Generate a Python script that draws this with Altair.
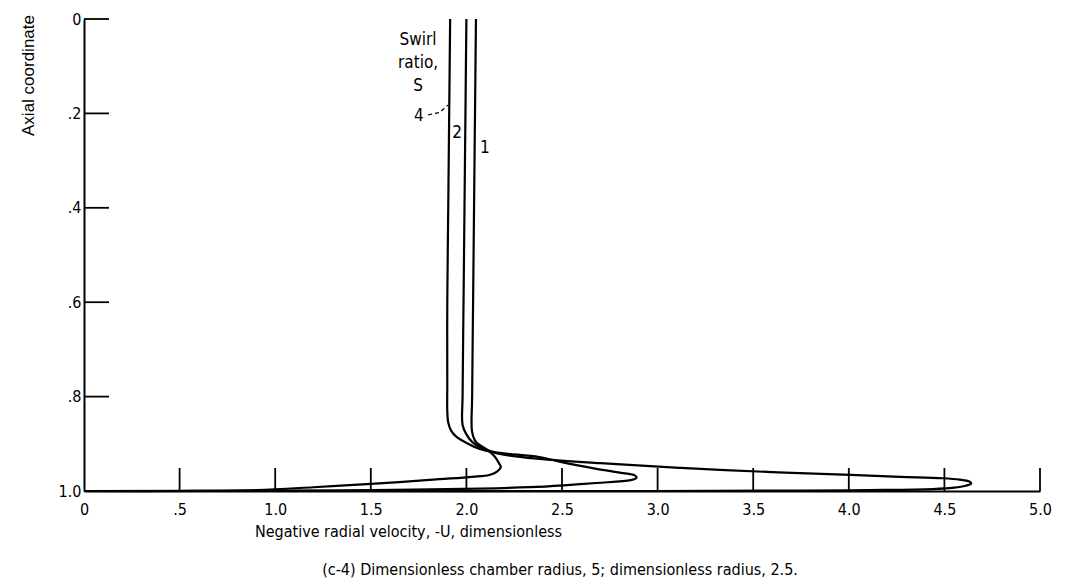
import altair as alt
import pandas as pd

# ---- data ----
s4_u = [1.915, 1.91, 1.905, 1.90, 1.90, 1.90, 1.905, 1.92, 1.95, 2.00, 2.07, 2.21, 2.38, 2.70, 3.12, 3.60, 4.01, 4.27, 4.49, 4.58, 4.63, 4.64, 4.61, 4.55, 4.44, 4.10, 3.74, 3.00, 1.50, 0.0]
s4_z = [0.0, 0.2, 0.4, 0.6, 0.78, 0.83, 0.855, 0.872, 0.886, 0.898, 0.911, 0.924, 0.932, 0.941, 0.951, 0.960, 0.966, 0.970, 0.973, 0.976, 0.980, 0.984, 0.989, 0.993, 0.996, 0.998, 0.999, 1.0, 1.0, 1.0]

s2_u = [2.00, 1.995, 1.99, 1.985, 1.98, 1.98, 2.00, 2.03, 2.07, 2.14, 2.38, 2.51, 2.68, 2.82, 2.88, 2.89, 2.86, 2.68, 2.51, 2.33, 2.07, 1.51, 1.00, 0.0]
s2_z = [0.0, 0.2, 0.4, 0.6, 0.80, 0.860, 0.880, 0.896, 0.907, 0.917, 0.928, 0.940, 0.953, 0.962, 0.967, 0.972, 0.977, 0.983, 0.988, 0.992, 0.995, 0.998, 0.999, 1.0]

s1_u = [2.05, 2.045, 2.04, 2.035, 2.03, 2.03, 2.05, 2.11, 2.15, 2.17, 2.18, 2.16, 2.12, 2.03, 1.86, 1.50, 1.20, 0.90, 0.50, 0.0]
s1_z = [0.0, 0.2, 0.4, 0.6, 0.80, 0.875, 0.896, 0.913, 0.928, 0.941, 0.949, 0.959, 0.966, 0.970, 0.975, 0.985, 0.992, 0.998, 1.0, 1.0]

series_names = ["4", "2", "1"]

x_tick_values = [0, 0.5, 1.0, 1.5, 2.0, 2.5, 3.0, 3.5, 4.0, 4.5, 5.0]
x_tick_labels = ["0", ".5", "1.0", "1.5", "2.0", "2.5", "3.0", "3.5", "4.0", "4.5", "5.0"]
y_tick_values = [0, 0.2, 0.4, 0.6, 0.8, 1.0]
y_tick_labels = ["0", ".2", ".4", ".6", ".8", "1.0"]

ann_text = ["Swirl", "ratio,", "S", "4", "2", "1"]
ann_u = [1.747, 1.747, 1.747, 1.752, 1.951, 2.097]
ann_z = [0.044, 0.093, 0.142, 0.206, 0.242, 0.273]

leader_u = [1.80, 1.86, 1.905]
leader_z = [0.203, 0.198, 0.182]

x_title = "Negative radial velocity, -U, dimensionless"
y_title = "Axial coordinate"
caption = ["(c-4) Dimensionless chamber radius, 5; dimensionless radius, 2.5."]

# ---- tables ----
rows = []
for name, us, zs in zip(series_names, [s4_u, s2_u, s1_u], [s4_z, s2_z, s1_z]):
    for i, (u, z) in enumerate(zip(us, zs)):
        rows.append({"series": name, "i": i, "u": u, "z": z})
curves_df = pd.DataFrame(rows)
ann_df = pd.DataFrame({"t": ann_text, "u": ann_u, "z": ann_z})
leader_df = pd.DataFrame({"u": leader_u, "z": leader_z, "i": range(len(leader_u))})
xt_df = pd.DataFrame({"v": x_tick_values[1:]})
yt_df = pd.DataFrame({"v": y_tick_values[:-1]})
cap_df = pd.DataFrame({"t": caption})


def label_expr(vals, labs):
    expr = "''"
    for v, l in reversed(list(zip(vals, labs))):
        expr = f"abs(datum.value - {v}) < 1e-6 ? '{l}' : ({expr})"
    return expr


FONT = "DejaVu Sans Condensed, Liberation Sans Narrow, DejaVu Sans"
W, H = 956, 472

xscale = alt.Scale(domain=[0, 5], nice=False, zero=False)
yscale = alt.Scale(domain=[0, 1], reverse=True, nice=False, zero=False)

xaxis = alt.Axis(values=x_tick_values, labelExpr=label_expr(x_tick_values, x_tick_labels),
                 tickSize=0, grid=False, domainColor="black", domainWidth=2,
                 labelFont=FONT, labelFontSize=16, labelColor="black", labelPadding=10,
                 title=x_title, titleFont=FONT, titleFontSize=16, titleFontWeight="normal",
                 titleColor="black", titleX=324, titleY=40, titleBaseline="middle",
                 titleAnchor="start", titleAlign="center", labelFlush=False, labelOverlap=False)
yaxis = alt.Axis(values=y_tick_values, labelExpr=label_expr(y_tick_values, y_tick_labels),
                 tickSize=0, grid=False, domainColor="black", domainWidth=2,
                 labelFont=FONT, labelFontSize=16, labelColor="black", labelPadding=3,
                 labelBaseline="middle", labelFlush=False, labelOverlap=False,
                 title=y_title, titleFont="Liberation Sans", titleFontSize=17,
                 titleFontWeight="normal", titleColor="black", titleAngle=-90,
                 titleX=-56, titleY=56, titleAlign="center", titleBaseline="middle")

curves = alt.Chart(curves_df).mark_line(color="black", strokeWidth=2.2, interpolate="catmull-rom").encode(
    x=alt.X("u:Q", scale=xscale, axis=xaxis),
    y=alt.Y("z:Q", scale=yscale, axis=yaxis),
    detail="series:N",
    order="i:Q",
)

xticks = alt.Chart(xt_df).mark_rule(color="black", strokeWidth=1.8).encode(
    x=alt.X("v:Q", scale=xscale), y=alt.value(H), y2=alt.value(H - 23))
yticks = alt.Chart(yt_df).mark_rule(color="black", strokeWidth=1.8).encode(
    y=alt.Y("v:Q", scale=yscale), x=alt.value(0), x2=alt.value(25))

ann = alt.Chart(ann_df).mark_text(font=FONT, fontSize=17, color="black", align="center", baseline="middle").encode(
    x=alt.X("u:Q", scale=xscale), y=alt.Y("z:Q", scale=yscale), text="t:N")

leader = alt.Chart(leader_df).mark_line(color="black", strokeWidth=1.2, strokeDash=[4, 3]).encode(
    x=alt.X("u:Q", scale=xscale), y=alt.Y("z:Q", scale=yscale), order="i:Q")

cap = alt.Chart(cap_df).mark_text(font=FONT, fontSize=16, color="black", align="center", baseline="middle").encode(
    x=alt.value(476), y=alt.value(551), text="t:N")

chart = alt.layer(curves, xticks, yticks, leader, ann, cap).properties(
    width=W, height=H,
    padding={"left": 76, "top": 11, "right": 20, "bottom": 88},
    autosize=alt.AutoSizeParams(type="none"),
    background="white",
).configure_view(stroke=None)

chart.save("out.html", embed_options={"renderer": "svg", "actions": False})
